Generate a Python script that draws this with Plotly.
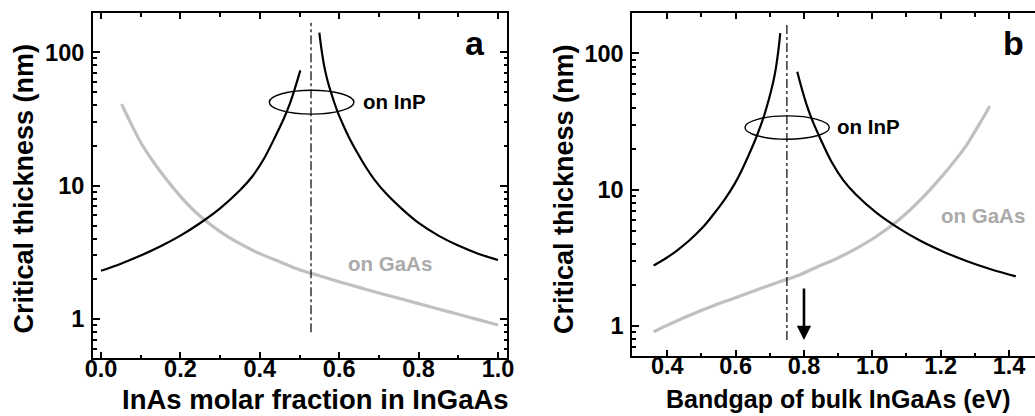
import plotly.graph_objects as go

# ---------------- data ----------------
# Panel a: InAs molar fraction in InGaAs
inp_low_x = [0.0, 0.05, 0.1, 0.15, 0.2, 0.25, 0.3, 0.35, 0.38, 0.41, 0.44, 0.46, 0.475, 0.49, 0.502]
inp_low_h = [2.30, 2.60, 2.99, 3.51, 4.22, 5.25, 6.76, 9.23, 11.61, 15.85, 23.7, 31.6, 40.7, 55.6, 73.3]
inp_high_x = [0.55, 0.555, 0.5625, 0.57, 0.578, 0.588, 0.598, 0.61, 0.625, 0.645, 0.665, 0.69,
              0.72, 0.76, 0.8, 0.85, 0.9, 0.95, 1.0]
inp_high_h = [140.6, 107.2, 78.2, 62.4, 51.6, 41.7, 34.5, 28.5, 22.9, 17.8, 14.1, 10.96,
              8.61, 6.61, 5.25, 4.22, 3.55, 3.09, 2.77]
gaas_x = [0.052, 0.06, 0.07, 0.08, 0.09, 0.1, 0.12, 0.15, 0.2, 0.25, 0.3, 0.35, 0.4, 0.45,
          0.5, 0.55, 0.6, 0.65, 0.7, 0.75, 0.8, 0.85, 0.9, 0.95, 1.0]
gaas_h = [40.97, 36.3, 31.6, 27.5, 24.0, 21.1, 17.0, 12.7, 8.32, 5.89, 4.52, 3.67, 3.09, 2.69,
          2.34, 2.11, 1.905, 1.726, 1.567, 1.429, 1.303, 1.189, 1.084, 0.989, 0.902]

# Panel b: bandgap of bulk InGaAs (eV)
inp_low_eg = [1.42, 1.3466, 1.2753, 1.2062, 1.1392, 1.0744, 1.0117, 0.9512, 0.9159, 0.8814,
              0.8476, 0.8256, 0.8093, 0.7931, 0.7804]
inp_high_eg = [0.7306, 0.7255, 0.7179, 0.7104, 0.7025, 0.6926, 0.6828, 0.6711, 0.6567, 0.6378,
               0.6194, 0.5966, 0.5701, 0.5360, 0.5032, 0.4642, 0.4273, 0.3926, 0.36]
gaas_eg = [1.3436, 1.3321, 1.3178, 1.3036, 1.2894, 1.2753, 1.2474, 1.2062, 1.1392, 1.0744,
           1.0117, 0.9512, 0.8928, 0.8366, 0.7825, 0.7306, 0.6808, 0.6332, 0.5877, 0.5444,
           0.5032, 0.4642, 0.4273, 0.3926, 0.36]

lattice_match_x = 0.529
lattice_match_eg = 0.750
arrow_eg = 0.80

x_ticks_a = [0.0, 0.2, 0.4, 0.6, 0.8, 1.0]
x_ticks_b = [0.4, 0.6, 0.8, 1.0, 1.2, 1.4]
y_ticks = [1, 10, 100]
y_minor = [0.5, 0.6, 0.7, 0.8, 0.9, 2, 3, 4, 5, 6, 7, 8, 9, 20, 30, 40, 50, 60, 70, 80, 90, 200]

BLACK = "#000000"
GRAY = "#c0c0c0"
GRAY_TXT = "#aaaaaa"
FONT = "Liberation Sans, Arial, sans-serif"

fig = go.Figure()

def add_curve(x, y, color, width, xa, ya):
    fig.add_trace(go.Scatter(x=x, y=y, mode="lines",
                             line=dict(color=color, width=width, shape="spline", smoothing=1.0),
                             xaxis=xa, yaxis=ya, showlegend=False, hoverinfo="skip"))

add_curve(gaas_x, gaas_h, GRAY, 3.2, "x", "y")
add_curve(inp_low_x, inp_low_h, BLACK, 2.2, "x", "y")
add_curve(inp_high_x, inp_high_h, BLACK, 2.2, "x", "y")

add_curve(gaas_eg, gaas_h, GRAY, 3.2, "x2", "y2")
add_curve(inp_low_eg, inp_low_h, BLACK, 2.2, "x2", "y2")
add_curve(inp_high_eg, inp_high_h, BLACK, 2.2, "x2", "y2")

tickfont = dict(family=FONT, size=23.5, color=BLACK, weight="bold")

def xaxis(domain, rng, ticks, anchor):
    return dict(domain=domain, range=rng, tickvals=ticks, ticktext=["%.1f" % t for t in ticks],
                ticks="inside", ticklen=6, tickwidth=2, tickcolor=BLACK,
                showline=True, linewidth=2, linecolor=BLACK, mirror="ticks",
                showgrid=False, zeroline=False, tickfont=tickfont, automargin=False,
                ticklabelstandoff=-12,
                minor=dict(dtick=0.1, tick0=0, ticks="inside", ticklen=3.5, tickwidth=2,
                           tickcolor=BLACK, showgrid=False),
                anchor=anchor)

def yaxis(domain, rng, mirror, anchor):
    return dict(domain=domain, type="log", range=rng, tickvals=y_ticks,
                ticktext=[str(t) for t in y_ticks],
                ticks="inside", ticklen=7, tickwidth=2, tickcolor=BLACK,
                showline=True, linewidth=2, linecolor=BLACK, mirror=mirror,
                showgrid=False, zeroline=False, tickfont=tickfont, automargin=False,
                ticklabelstandoff=2,
                minor=dict(tickvals=y_minor, ticks="inside", ticklen=3.5, tickwidth=2,
                           tickcolor=BLACK, showgrid=False),
                anchor=anchor)

xa = xaxis([93 / 1035, 507 / 1035], [-0.0202, 1.0227], x_ticks_a, "y")
xb = xaxis([632.3 / 1035, 1.0], [0.2976, 1.4761], x_ticks_b, "y2")
ya = yaxis([1 - 358.3 / 416, 1 - 13.3 / 416], [-0.295, 2.293], "ticks", "x")
yb = yaxis([1 - 356 / 416, 1 - 13.3 / 416], [-0.2225, 2.2937], False, "x2")

shapes = [
    dict(type="line", xref="x", yref="y", x0=lattice_match_x, x1=lattice_match_x,
         y0=0.794, y1=167, line=dict(color=BLACK, width=1.2, dash="dashdot")),
    dict(type="line", xref="x2", yref="y2", x0=lattice_match_eg, x1=lattice_match_eg,
         y0=0.785, y1=166, line=dict(color=BLACK, width=1.2, dash="dashdot")),
    dict(type="circle", xref="x", yref="y", x0=0.424, x1=0.637, y0=34.4, y1=52.0,
         line=dict(color=BLACK, width=1.4)),
    dict(type="circle", xref="x2", yref="y2", x0=0.6274, x1=0.8741, y0=23.4, y1=34.7,
         line=dict(color=BLACK, width=1.4)),
]

def txt(text, x, y, xref, yref, size, color=BLACK, xanchor="left", angle=0):
    return dict(text=text, x=x, y=y, xref=xref, yref=yref, showarrow=False,
                xanchor=xanchor, yanchor="middle", textangle=angle,
                font=dict(family=FONT, size=size, color=color, weight="bold"))

annotations = [
    txt("a", 0.942, 2.07, "x", "y", 34, xanchor="center"),
    txt("b", 1.412, 2.076, "x2", "y2", 34, xanchor="center"),
    txt("on InP", 0.655, 1.629, "x", "y", 20.5),
    txt("on InP", 0.892, 1.461, "x2", "y2", 20.5),
    txt("on GaAs", 0.618, 0.418, "x", "y", 20.5, color=GRAY_TXT),
    txt("on GaAs", 1.195, 0.811, "x2", "y2", 20.5, color=GRAY_TXT),
    txt("InAs molar fraction in InGaAs", 315.5 / 1035, 1 - 399 / 416, "paper", "paper", 27.5,
        xanchor="center"),
    txt("Bandgap of bulk InGaAs (eV)", 837.5 / 1035, 1 - 399 / 416, "paper", "paper", 25,
        xanchor="center"),
    txt("Critical thickness (nm)", 23 / 1035, 1 - 188.5 / 416, "paper", "paper", 27,
        xanchor="center", angle=-90),
    txt("Critical thickness (nm)", 564 / 1035, 1 - 189 / 416, "paper", "paper", 27,
        xanchor="center", angle=-90),
    dict(x=arrow_eg, y=-0.105, xref="x2", yref="y2", text="", showarrow=True,
         ax=0, ay=-53, arrowhead=2, arrowsize=1.1, arrowwidth=2.6, arrowcolor=BLACK),
]

fig.update_layout(width=1035, height=416, margin=dict(l=0, r=0, t=0, b=0, autoexpand=False),
                  paper_bgcolor="white", plot_bgcolor="white",
                  xaxis=xa, yaxis=ya, xaxis2=xb, yaxis2=yb,
                  shapes=shapes, annotations=annotations, showlegend=False)

fig.write_html("out.html", config={"displayModeBar": False},
               post_script="document.body.style.margin='0';document.body.style.overflow='hidden';")
